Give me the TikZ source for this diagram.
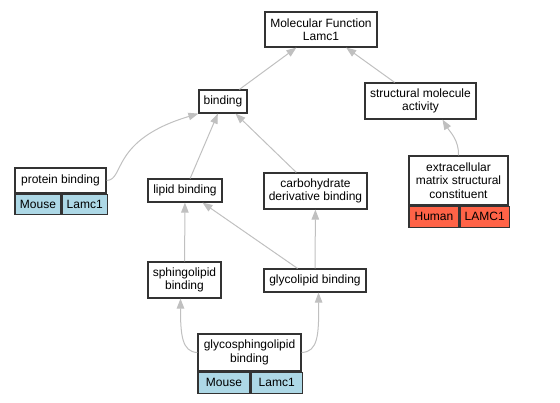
\documentclass[tikz,border=0pt]{standalone}
\usepackage{fontspec}
\setmainfont{Liberation Sans}
\usepackage{tikz}
\usetikzlibrary{arrows.meta}
\usetikzlibrary{calc}
\usetikzlibrary{positioning}

\definecolor{edgegray}{HTML}{C0C0C0}
\definecolor{mousecol}{HTML}{ADD8E6}
\definecolor{humancol}{HTML}{FF6347}

\begin{document}
\begin{tikzpicture}[
  x=1pt, y=-1pt,
  > = {Triangle[length=10pt,width=7.5pt]},
  every node/.style = {font=\fontsize{12}{13.3}\selectfont, inner sep=0pt, align=center},
  term/.style = {draw=black!80, line width=1.2pt, fill=white},
  cell/.style = {draw=black!80, line width=1.2pt, minimum height=20pt},
  edge/.style = {draw=edgegray, line width=1pt, ->}
  ]
  \useasboundingbox (0,0) rectangle (560,403);

	\node[term, minimum width=112pt, minimum height=35pt] (mf) at (321,29.5) {Molecular Function\\Lamc1};
	\node[term, minimum width=48pt, minimum height=23pt] (bind) at (223,101.5) {binding};
	\node[term, minimum width=111pt, minimum height=36pt] (sma) at (420.5,101) {structural molecule\\activity};

	\node[term, minimum width=91pt, minimum height=25pt] (prot) at (60.5,180.5) {protein binding};
	\node[cell, fill=mousecol, minimum width=46pt, anchor=north west] (protA) at (prot.south west) {Mouse};
	\node[cell, fill=mousecol, minimum width=45pt, anchor=north west] (protB) at (protA.north east) {Lamc1};

	\node[term, minimum width=74pt, minimum height=23pt] (lip) at (185,190.5) {lipid binding};
	\node[term, minimum width=103pt, minimum height=36pt] (carb) at (315.5,191) {carbohydrate\\derivative binding};

	\node[term, minimum width=99pt, minimum height=49pt] (ecm) at (458.5,180.5) {extracellular\\matrix structural\\constituent};
	\node[cell, fill=humancol, minimum width=50pt, minimum height=21pt, anchor=north west] (ecmA) at (ecm.south west) {Human};
	\node[cell, fill=humancol, minimum width=49pt, minimum height=21pt, anchor=north west] (ecmB) at (ecmA.north east) {LAMC1};

	\node[term, minimum width=73pt, minimum height=36pt] (sph) at (184.5,280) {sphingolipid\\binding};
	\node[term, minimum width=102pt, minimum height=23pt] (gly) at (315,280.5) {glycolipid binding};

	\node[term, minimum width=103pt, minimum height=37pt] (gsl) at (249.5,352.5) {glycosphingolipid\\binding};
	\node[cell, fill=mousecol, minimum width=52pt, minimum height=21pt, anchor=north west] (gslA) at (gsl.south west) {Mouse};
	\node[cell, fill=mousecol, minimum width=51pt, minimum height=21pt, anchor=north west] (gslB) at (gslA.north east) {Lamc1};

	\draw[edge] (bind) -- (mf);
	\draw[edge] (sma) -- (mf);
	\draw[edge] (prot.east) .. controls (125,180) and (110,140) .. (bind.south west);
	\draw[edge] (lip) -- (bind);
	\draw[edge] (carb) -- (bind);
	\draw[edge] (ecm.north) .. controls (459,140) and (450,132) .. ($(sma.south)+(22,0)$);
	\draw[edge] (sph) -- (lip);
	\draw[edge] (gly) -- (lip);
	\draw[edge] (gly) -- (carb);
	\draw[edge] (gsl.west) .. controls (182,352) and (180.5,335) .. ($(sph.south)+(-4,0)$);
	\draw[edge] (gsl.east) .. controls (318,352) and (319,335) .. ($(gly.south)+(3.5,0)$);

\end{tikzpicture}
\end{document}
